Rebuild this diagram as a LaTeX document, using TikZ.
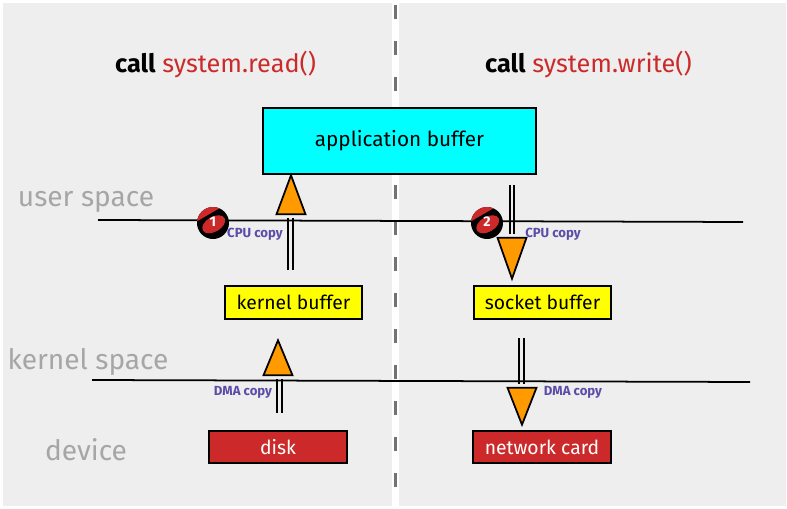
\documentclass[tikz,border=0pt]{standalone}
\usepackage{fontspec}
\setmainfont{Fira Sans}
\usepackage{xcolor}
\usetikzlibrary{positioning, shapes.geometric}
\definecolor{panelgray}{HTML}{EEEEEE}
\definecolor{callred}{HTML}{CC2A2A}
\definecolor{copypurple}{HTML}{5B4CA8}
\definecolor{tiporange}{HTML}{FF9A00}
\definecolor{spacegray}{HTML}{A6A6A6}
\definecolor{appcyan}{HTML}{00FFFF}
\definecolor{bufyellow}{HTML}{FFFF00}
\tikzset{
  box/.style={draw=black, line width=1.3pt, inner sep=0pt, minimum height=#1},
  tipup/.style={isosceles triangle, isosceles triangle stretches, shape border rotate=90, draw=black, line width=1pt, fill=tiporange, inner sep=0pt, minimum width=0.58cm, minimum height=#1, anchor=apex},
  tipdown/.style={tipup=#1, shape border rotate=270},
  pipe/.style={draw=black, line width=1.1pt, double=panelgray, double distance=1.3pt, shorten >=1.5pt},
  copylabel/.style={text=copypurple, font=\fontsize{7.5}{8}\selectfont\bfseries},
  spacelabel/.style={text=spacegray, font=\fontsize{16}{18}\selectfont},
  calllabel/.style={font=\fontsize{14.4}{16}\selectfont, anchor=west},
  boxtext/.style={font=\fontsize{11}{13}\selectfont}
}
\begin{document}
\begin{tikzpicture}[x=0.02cm, y=-0.02cm]
\useasboundingbox (0,0) rectangle (787,509);
\fill[panelgray] (3,3) rectangle (392,506);
\fill[panelgray] (399,3) rectangle (786,506);
\draw[black!55, line width=1.7pt, dash pattern=on 0.28cm off 0.44cm] (395,5) -- (395,506);

\node[calllabel] (readcall) at (109,65) {\textbf{call} \textcolor{callred}{system.read()}};
\node[calllabel] (writecall) at (479,65) {\textbf{call} \textcolor{callred}{system.write()}};

\node[spacelabel] (user) at (86,202) {user space};
\node[spacelabel] (kernel) at (88,362) {kernel space};
\node[spacelabel] (device) at (86,450) {device};

\node[box=1.32cm, minimum width=5.46cm, fill=appcyan, font=\fontsize{11.8}{14}\selectfont] (appbuf) at (399.5,141) {application buffer};
\node[box=0.66cm, minimum width=2.74cm, fill=bufyellow, boxtext] (kernbuf) at (293.5,302.5) {kernel buffer};
\node[box=0.66cm, minimum width=2.74cm, fill=bufyellow, boxtext] (sockbuf) at (542.5,302.5) {socket buffer};
\node[box=0.64cm, minimum width=2.76cm, fill=callred, text=white, boxtext] (disk) at (278,447) {disk};
\node[box=0.64cm, minimum width=2.76cm, fill=callred, text=white, boxtext] (netcard) at (542,447) {network card};

\node[tipup=0.78cm] (tipa) at (291,173) {};
\node[tipdown=0.82cm] (tipb) at (512,281) {};
\node[tipup=0.70cm] (tipc) at (278,338) {};
\node[tipdown=0.74cm] (tipd) at (522,427) {};

\coordinate (pipea) at (290.5,270);
\coordinate (pipeb) at (512,185);
\coordinate (pipec) at (279.5,413);
\coordinate (piped) at (521.5,338);
\draw[pipe] (pipea) -- (tipa.south -| pipea);
\draw[pipe] (pipeb) -- (tipb.north -| pipeb);
\draw[pipe] (pipec) -- (tipc.south -| pipec);
\draw[pipe] (piped) -- (tipd.north -| piped);

\coordinate (userl) at (98,220);
\coordinate (userr) at (743,222);
\coordinate (kernl) at (92,380);
\coordinate (kernr) at (750,382);
\draw[line width=1pt] (userl) -- (userr);
\draw[line width=1pt] (kernl) -- (kernr);

\node[copylabel] (cpua) at (255,234) {CPU copy};
\node[copylabel] (cpub) at (553,234) {CPU copy};
\node[copylabel] (dmaa) at (243,392) {DMA copy};
\node[copylabel] (dmab) at (573,392) {DMA copy};

\foreach \x/\n in {213/1, 487/2} {
  \begin{scope}[shift={(\x,223)}, rotate=30]
    \fill[black] (0,0) circle[radius=0.32cm];
    \clip (0,0) circle[radius=0.32cm];
    \fill[callred] (-0.4cm,0.19cm) rectangle (0.4cm,0.4cm);
    \fill[callred] (0cm,-0.03cm) ellipse[x radius=0.25cm, y radius=0.15cm];
  \end{scope}
  \node[text=white, inner sep=0pt, font=\fontsize{8}{9}\selectfont\bfseries] (badge\n) at (\x,222) {\n};
}
\end{tikzpicture}
\end{document}
